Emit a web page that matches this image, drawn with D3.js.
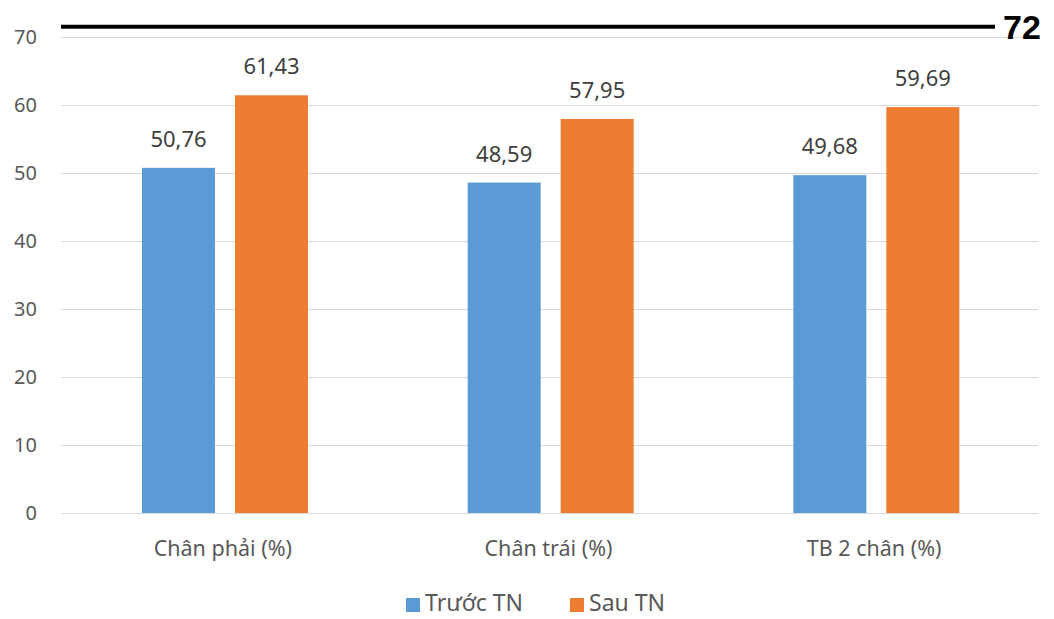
<!DOCTYPE html>
<html><head><meta charset="utf-8">
<script src="https://cdn.jsdelivr.net/npm/d3@7"></script>
<style>html,body{margin:0;padding:0;background:#fff;}svg{display:block;}</style>
</head><body>
<script>
const categories = ["Chân phải (%)", "Chân trái (%)", "TB 2 chân (%)"];
const seriesNames = ["Trước TN", "Sau TN"];
const truocTN = [50.76, 48.59, 49.68];
const sauTN = [61.43, 57.95, 59.69];
const valueLabels = [["50,76", "48,59", "49,68"], ["61,43", "57,95", "59,69"]];
const yTicks = [0, 10, 20, 30, 40, 50, 60, 70];
const refLabel = "72";
const refLineValue = 71.5;
const colors = ["#5B9BD5", "#ED7D31"];

const W = 1054, H = 619;
const svg = d3.select("body").append("svg").attr("width", W).attr("height", H);
const font = "'Noto Sans', 'Open Sans', sans-serif";

const y = d3.scaleLinear().domain([0, 70]).range([513, 37]);
const x0 = d3.scaleBand().domain(categories).range([61, 1038]).padding(0);
const x1 = d3.scaleBand().domain(seriesNames).range([81, 247]).paddingInner(0.215);

svg.append("g").selectAll("line").data(yTicks).join("line")
  .attr("x1", 61).attr("x2", 1038)
  .attr("y1", d => Math.round(y(d)) + 0.5).attr("y2", d => Math.round(y(d)) + 0.5)
  .attr("stroke", "#D9D9D9").attr("stroke-width", 1.2);

svg.append("g").selectAll("text").data(yTicks).join("text")
  .attr("x", 37).attr("y", d => y(d)).attr("dy", "0.35em")
  .attr("text-anchor", "end").attr("font-family", font).attr("font-size", 20)
  .attr("fill", "#595959").text(d => d);

const series = [truocTN, sauTN];
const data = [];
categories.forEach((c, i) => seriesNames.forEach((s, j) => data.push({c, s, v: series[j][i], lab: valueLabels[j][i], color: colors[j]})));

svg.append("g").selectAll("rect").data(data).join("rect")
  .attr("x", d => x0(d.c) + x1(d.s)).attr("width", x1.bandwidth())
  .attr("y", d => y(d.v)).attr("height", d => y(0) - y(d.v))
  .attr("fill", d => d.color);

svg.append("g").selectAll("text").data(data).join("text")
  .attr("x", d => x0(d.c) + x1(d.s) + x1.bandwidth() / 2)
  .attr("y", d => y(d.v) - 21)
  .attr("text-anchor", "middle").attr("font-family", font).attr("font-size", 22)
  .attr("fill", "#404040").text(d => d.lab);

svg.append("g").selectAll("text").data(categories).join("text")
  .attr("x", d => x0(d) + x0.bandwidth() / 2 - 1).attr("y", 556)
  .attr("text-anchor", "middle").attr("font-family", font).attr("font-size", 21.5)
  .attr("fill", "#595959").text(d => d);

svg.append("line").attr("x1", 61).attr("x2", 995)
  .attr("y1", y(refLineValue)).attr("y2", y(refLineValue))
  .attr("stroke", "#000").attr("stroke-width", 4);
svg.append("text").attr("x", 1003).attr("y", y(refLineValue)).attr("dy", "0.36em")
  .attr("font-family", "'Liberation Sans', Arial, sans-serif").attr("font-weight", "bold")
  .attr("font-size", 34).attr("fill", "#000").text(refLabel);

const legendItems = [{name: seriesNames[0], color: colors[0], x: 406}, {name: seriesNames[1], color: colors[1], x: 570}];
const lg = svg.append("g").selectAll("g").data(legendItems).join("g")
  .attr("transform", d => `translate(${d.x},0)`);
lg.append("rect").attr("x", 0).attr("y", 598).attr("width", 14).attr("height", 14).attr("fill", d => d.color);
lg.append("text").attr("x", 19).attr("y", 611).attr("font-family", font).attr("font-size", 23)
  .attr("fill", "#595959").text(d => d.name);
</script>
</body></html>
